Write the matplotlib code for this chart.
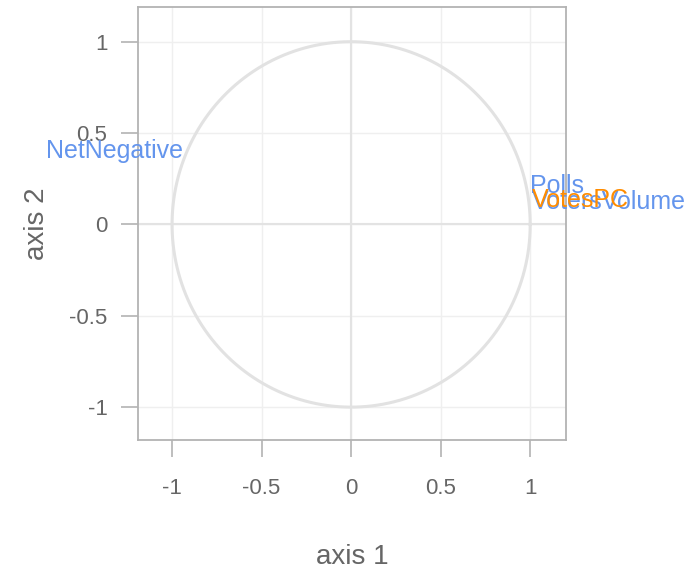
import numpy as np
import matplotlib.pyplot as plt

# variable coordinates on the correlation circle
var_names = ["NetNegative", "Polls", "VotesPC", "VotersVolume"]
var_x = [-0.94, 1.0, 1.01, 1.01]
var_y = [0.40, 0.21, 0.135, 0.125]
var_colors = ["#6495ED", "#6495ED", "#FF8C00", "#6495ED"]

ticks = [-1, -0.5, 0, 0.5, 1]
tick_labels = ["-1", "-0.5", "0", "0.5", "1"]

plt.rcParams['font.family'] = ['Liberation Sans', 'DejaVu Sans']

fig = plt.figure(figsize=(6.95, 5.73), dpi=100)
ax = fig.add_axes([0.1986, 0.2321, 0.6158, 0.7557])

ax.set_xlim(-1.19, 1.2)
ax.set_ylim(-1.18, 1.19)

for t in ticks:
    ax.axvline(t, color="#efefef", lw=1.0, zorder=0)
    ax.axhline(t, color="#efefef", lw=1.0, zorder=0)
ax.axvline(0, color="#e3e3e3", lw=1.5, zorder=1)
ax.axhline(0, color="#e3e3e3", lw=1.5, zorder=1)

theta = np.linspace(0, 2 * np.pi, 200)
ax.plot(np.cos(theta), np.sin(theta), color="#e2e2e2", lw=2.2, zorder=2)

# draw the orange label last so it sits over the blue ones
order = [0, 1, 3, 2]
for i in order:
    ha = "right" if var_x[i] < 0 else "left"
    ax.text(var_x[i], var_y[i], var_names[i], color=var_colors[i], fontsize=18,
            ha=ha, va="center", clip_on=False, zorder=3)

ax.set_xticks(ticks)
ax.set_xticklabels(tick_labels)
ax.set_yticks(ticks)
ax.set_yticklabels(tick_labels)
ax.tick_params(axis="both", length=12, width=1.2, color="#b3b3b3",
               labelcolor="#666666", labelsize=16, pad=10)
ax.tick_params(axis="x", pad=15)

for s in ax.spines.values():
    s.set_color("#b3b3b3")
    s.set_linewidth(1.3)

ax.set_xlabel("axis 1", fontsize=20, color="#666666", labelpad=33)
ax.set_ylabel("axis 2", fontsize=20, color="#666666", labelpad=14)

fig.savefig("out.png", dpi=100)
